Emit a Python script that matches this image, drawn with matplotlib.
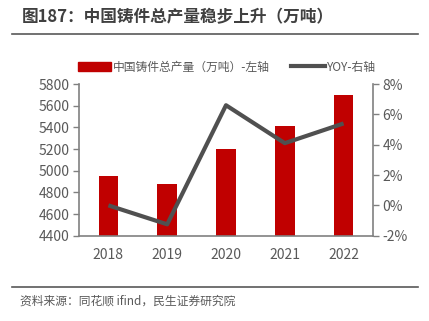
import matplotlib
matplotlib.use("Agg")
import matplotlib.pyplot as plt
from matplotlib.lines import Line2D
import numpy as np

plt.rcParams['font.family'] = ['Noto Sans CJK SC', 'DejaVu Sans']

years = ["2018", "2019", "2020", "2021", "2022"]
output = [4950, 4880, 5200, 5410, 5700]      # 万吨
yoy = [0.0, -1.25, 6.6, 4.1, 5.4]             # %

left_ticks = [4400, 4600, 4800, 5000, 5200, 5400, 5600, 5800]
right_ticks = [-2, 0, 2, 4, 6, 8]

title = "图187：中国铸件总产量稳步上升（万吨）"
source = "资料来源：同花顺 ifind，民生证券研究院"
bar_label = "中国铸件总产量（万吨）-左轴"
line_label = "YOY-右轴"

bar_color = "#C00000"
line_color = "#505050"
text_color = "#595959"
spine_color = "#808080"

W, H = 429, 321
fig = plt.figure(figsize=(W / 100, H / 100), dpi=100)

ax = fig.add_axes([79 / W, 1 - 235.7 / H, (373 - 79) / W, (235.7 - 84) / H])
x = np.arange(len(years))
ax.bar(x, output, width=0.33, color=bar_color, zorder=2)
ax.set_xlim(-0.5, len(years) - 0.5)
ax.set_ylim(left_ticks[0], left_ticks[-1])
ax.set_yticks(left_ticks)
ax.set_xticks(x)
ax.set_xticklabels(years)

ax2 = ax.twinx()
ax2.plot(x, yoy, color=line_color, lw=3.0, zorder=3, solid_capstyle="butt")
ax2.set_ylim(right_ticks[0], right_ticks[-1])
ax2.set_yticks(right_ticks)
ax2.set_yticklabels([f"{t}%" for t in right_ticks])

for a in (ax, ax2):
    for s in a.spines.values():
        s.set_visible(False)
    a.tick_params(colors=spine_color, labelcolor=text_color, labelsize=10,
                  length=4, width=1)
ax.spines["left"].set_visible(True)
ax.spines["bottom"].set_visible(True)
ax2.spines["right"].set_visible(True)
for s in (ax.spines["left"], ax.spines["bottom"], ax2.spines["right"]):
    s.set_color(spine_color)
    s.set_linewidth(1.2)
ax.tick_params(axis="x", length=0, pad=9)
ax.tick_params(axis="y", pad=3)
ax2.tick_params(axis="y", pad=3)

# legend
handles = [plt.Rectangle((0, 0), 1, 1, color=bar_color),
           Line2D([0], [0], color=line_color, lw=3)]
fig.legend(handles, [bar_label, line_label], loc="center left",
           bbox_to_anchor=(72 / W, 1 - 67 / H), ncol=2, frameon=False,
           fontsize=8.5, labelcolor=text_color, handlelength=2.8,
           handleheight=0.8, handletextpad=0.2, columnspacing=1.8,
           borderpad=0)

# title and source
fig.text(22 / W, 1 - 17 / H, title, fontsize=12, fontweight="bold",
         color="#404040", va="center", ha="left")
fig.add_artist(Line2D([12 / W, 418 / W], [1 - 34 / H, 1 - 34 / H],
                      color="#595959", lw=1.2))
fig.add_artist(Line2D([12 / W, 418 / W], [1 - 287 / H, 1 - 287 / H],
                      color="#595959", lw=1.2))
fig.text(20 / W, 1 - 301 / H, source, fontsize=8.5, color=text_color,
         va="center", ha="left")

fig.savefig("out.png", dpi=100)
